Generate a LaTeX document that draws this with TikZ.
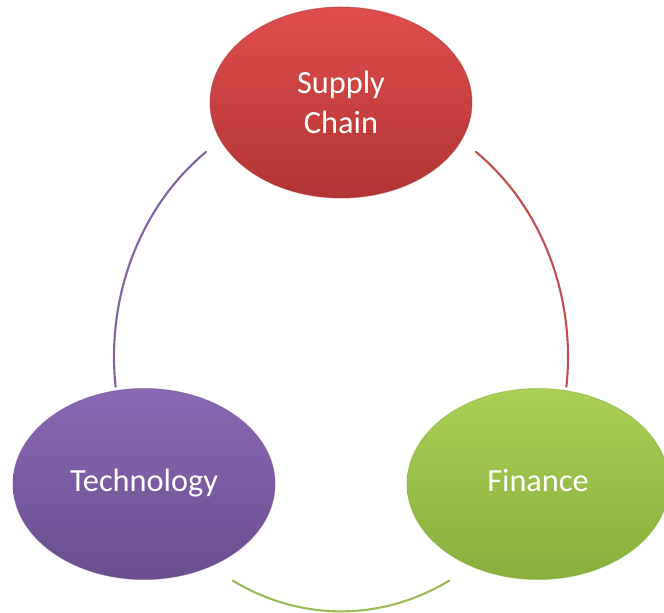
\documentclass[tikz,border=0pt]{standalone}
\usepackage{fontspec}
\setmainfont{Carlito}
\usetikzlibrary{shapes.geometric}

\definecolor{redtop}{RGB}{222,78,76}
\definecolor{redbot}{RGB}{178,52,52}
\definecolor{redline}{RGB}{192,80,77}
\definecolor{purtop}{RGB}{138,104,180}
\definecolor{purbot}{RGB}{106,78,142}
\definecolor{purline}{RGB}{128,100,162}
\definecolor{grntop}{RGB}{170,208,86}
\definecolor{grnbot}{RGB}{136,174,60}
\definecolor{grnline}{RGB}{155,187,89}

\tikzset{
	blob/.style={ellipse, inner sep=0pt, minimum width=5.24cm, minimum height=3.82cm,
		text=white, align=center, font=\fontsize{18.4}{22.7}\selectfont,
		draw opacity=0.5, line width=0.6pt},
	oneline/.style={text height=8.8pt, text depth=0pt},
	ring/.style={line width=1.2pt, line cap=round}
}

\begin{document}
\begin{tikzpicture}[x=0.02cm, y=0.02cm]
	\useasboundingbox (0,0) rectangle (664,613);
		% the three stages
		\node[blob, top color=redtop, bottom color=redbot, draw=redbot] (supply) at (341,510.5) {Supply\\Chain};
		\node[blob, oneline, top color=purtop, bottom color=purbot, draw=purbot] (tech) at (144,129) {Technology};
		\node[blob, oneline, top color=grntop, bottom color=grnbot, draw=grnbot] (fin) at (538,129) {Finance};
		% cycle arcs between them
		\coordinate (hub) at (341,256.3);
		\foreach \a/\b/\c in {126.5/186.8/purline, 53.5/-6.8/redline, 241.5/298.5/grnline}{
			\draw[ring, \c] (hub) ++(\a:227 and 254.7) arc[start angle=\a, end angle=\b, x radius=227, y radius=254.7];
		}
	\end{tikzpicture}
\end{document}
